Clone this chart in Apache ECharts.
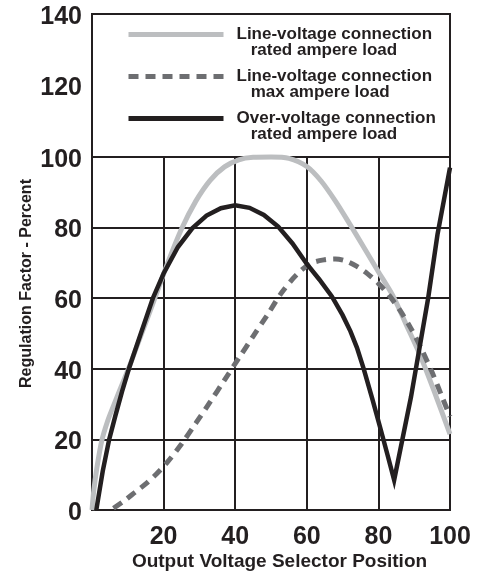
<!DOCTYPE html>
<html><head><meta charset="utf-8">
<script src="https://cdn.jsdelivr.net/npm/echarts@6/dist/echarts.min.js"></script>
<style>html,body{margin:0;padding:0;background:#fff}#c{width:484px;height:576px}</style>
</head><body><div id="c"></div>
<script>
// ---- data ----
const xTicks = [0, 20, 40, 60, 80, 100];
const yTicksLower = [0, 20, 40, 60, 80, 100];
const yTicksUpper = [100, 120, 140];
const xTitle = 'Output Voltage Selector Position';
const yTitle = 'Regulation Factor - Percent';
const seriesNames = ['Line-voltage rated', 'Line-voltage max', 'Over-voltage rated'];
const legendLine1 = ['Line-voltage connection', 'Line-voltage connection', 'Over-voltage connection'];
const legendLine2 = ['rated ampere load', 'max ampere load', 'rated ampere load'];

// Line-voltage connection, rated ampere load (light grey)
const greyX = [0, 0.5, 1.3, 2.7, 4.3, 6, 8, 10.3, 14.1, 17.4, 21, 25, 29, 33, 37, 41, 45, 50, 55, 60, 64, 68, 72, 76, 80, 84, 88, 92, 96, 100];
const greyY = [0, 5.5, 11.5, 19.5, 25, 29.5, 34.6, 40.3, 50.6, 59.6, 69.6, 79.6, 87.5, 93.4, 97.2, 99.2, 99.9, 100, 99.6, 97.3, 93.2, 87.5, 81, 74.3, 67.5, 60.8, 52, 43, 32.5, 21.5];

// Line-voltage connection, max ampere load (dark grey, dashed)
const dashX = [6, 9, 12, 15, 18, 21, 25, 29, 33, 37, 41, 45, 49, 53, 57, 61, 65, 68, 71, 74, 77, 80, 83, 86, 89, 92, 95, 98, 100];
const dashY = [0.5, 2.6, 5, 7.4, 10.2, 13.5, 18.7, 24.6, 30.6, 36.8, 43, 49.2, 55.3, 61.6, 66.5, 69.8, 70.9, 71.1, 70.5, 69, 66.9, 64.2, 60.8, 56.6, 51.6, 45.7, 39, 31.5, 26.5];

// Over-voltage connection, rated ampere load (black)
const blackX = [1.2, 3, 4.8, 6.5, 8.4, 10.3, 13.5, 17, 20, 24, 28, 32, 36, 40, 44, 48, 52, 56, 60, 63.5, 67, 70, 72.2, 74, 75.9, 78.3, 80.7, 82.5, 84.4, 89.1, 93.9, 96.5, 100];
const blackY = [0, 11, 20, 26.6, 33.6, 40, 49.6, 60, 67, 74.5, 79.8, 83.4, 85.5, 86.3, 85.6, 83.6, 80.3, 75.5, 69.7, 65.3, 60.5, 55.2, 50.6, 46, 40, 31.5, 22.6, 15.8, 8.5, 32, 60, 78, 97];

// ---- helpers ----
const zip = (xs, ys) => xs.map((x, i) => [x, ys[i]]);
const INK = '#231f20';
const FONT = "'Liberation Sans', Arial, Helvetica, sans-serif";

const chart = echarts.init(document.getElementById('c'), null, {renderer: 'canvas'});

const legendText = {};
seriesNames.forEach((n, i) => { legendText[n] = '\n' + legendLine1[i] + '\n   ' + legendLine2[i]; });

const labelStyle = {fontSize: 25, fontWeight: 'bold', color: INK, fontFamily: FONT};
const yLabel = {
  margin: 10,
  formatter: (v) => '{s| }\n{n|' + v + '}',
  rich: {
    s: {fontSize: 1, lineHeight: 6},
    n: {fontSize: 25, fontWeight: 'bold', color: INK, fontFamily: FONT, lineHeight: 26}
  }
};

const option = {
  backgroundColor: '#ffffff',
  animation: false,
  grid: [
    {left: 92, right: 34, top: 157, bottom: 62, show: true, borderColor: INK, borderWidth: 2},
    {left: 92, right: 34, top: 14, height: 143, show: true, borderColor: INK, borderWidth: 2}
  ],
  legend: {
    data: seriesNames,
    orient: 'vertical',
    left: 126,
    top: 10,
    padding: 0,
    itemGap: -7,
    itemWidth: 95,
    itemHeight: 3,
    lineStyle: {width: 5, opacity: 1},
    itemStyle: {opacity: 0},
    formatter: (name) => legendText[name],
    textStyle: {fontSize: 17, fontWeight: 'bold', color: INK, fontFamily: FONT, lineHeight: 16, padding: [0, 0, 0, 8]},
    selectedMode: false
  },
  xAxis: [
    {
      gridIndex: 0, type: 'value',
      min: xTicks[0], max: xTicks[xTicks.length - 1], interval: xTicks[1] - xTicks[0],
      axisLine: {show: false}, axisTick: {show: false},
      axisLabel: Object.assign({showMinLabel: false, margin: 15}, labelStyle),
      splitLine: {show: true, lineStyle: {color: INK, width: 2}},
      name: xTitle, nameLocation: 'middle', nameGap: 42, nameMoveOverlap: false,
      nameTextStyle: {fontSize: 19, fontWeight: 'bold', color: INK, fontFamily: FONT, padding: [0, 0, 0, 17]}
    },
    {gridIndex: 1, type: 'value', min: 0, max: 100, show: false}
  ],
  yAxis: [
    {
      gridIndex: 0, type: 'value',
      min: yTicksLower[0], max: yTicksLower[yTicksLower.length - 1], interval: yTicksLower[1] - yTicksLower[0],
      axisLine: {show: false}, axisTick: {show: false},
      axisLabel: yLabel,
      splitLine: {show: true, lineStyle: {color: INK, width: 2}},
      name: yTitle, nameLocation: 'middle', nameGap: 57, nameMoveOverlap: false,
      nameTextStyle: {fontSize: 16, fontWeight: 'bold', color: INK, fontFamily: FONT, padding: [0, 0, 0, 100]}
    },
    {
      gridIndex: 1, type: 'value',
      min: yTicksUpper[0], max: yTicksUpper[yTicksUpper.length - 1], interval: yTicksUpper[1] - yTicksUpper[0],
      axisLine: {show: false}, axisTick: {show: false},
      axisLabel: Object.assign({showMinLabel: false}, yLabel),
      splitLine: {show: false}
    }
  ],
  series: [
    {
      name: seriesNames[0], type: 'line', xAxisIndex: 0, yAxisIndex: 0,
      data: zip(greyX, greyY), smooth: 0.3, symbol: 'none', showSymbol: false, clip: false, z: 2,
      lineStyle: {color: '#bcbec0', width: 5}, itemStyle: {color: '#bcbec0'}
    },
    {
      name: seriesNames[1], type: 'line', xAxisIndex: 0, yAxisIndex: 0,
      data: zip(dashX, dashY), smooth: 0.3, symbol: 'none', showSymbol: false, clip: false, z: 3,
      lineStyle: {color: '#6d6e71', width: 5, type: [10, 7]}, itemStyle: {color: '#6d6e71'}
    },
    {
      name: seriesNames[2], type: 'line', xAxisIndex: 0, yAxisIndex: 0,
      data: zip(blackX, blackY), smooth: false, symbol: 'none', showSymbol: false, clip: false, z: 4,
      lineStyle: {color: INK, width: 4.5, join: 'miter'}, itemStyle: {color: INK}
    }
  ]
};
chart.setOption(option);
</script>
</body></html>
